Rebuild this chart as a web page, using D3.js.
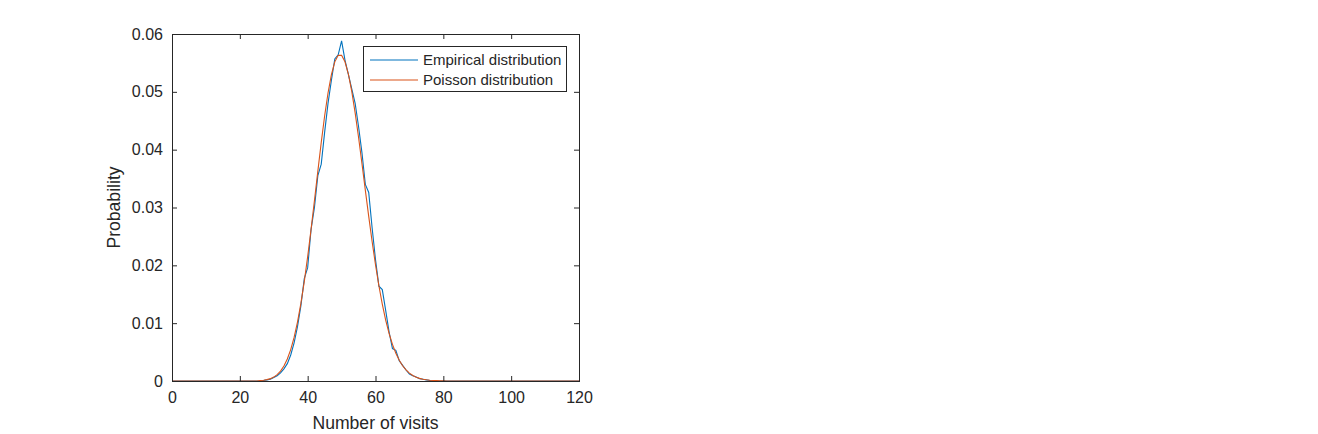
<!DOCTYPE html>
<html>
<head>
<meta charset="utf-8">
<script src="https://cdn.jsdelivr.net/npm/d3@7"></script>
<style>
html,body{margin:0;padding:0;background:#fff;}
svg{display:block;}
text{font-family:"Liberation Sans",Arial,sans-serif;fill:#262626;}
</style>
</head>
<body>
<svg id="chart" width="1318" height="434"></svg>
<script>
// ---- data ----
const visitsStart = 26; // first k listed below; values outside are zero
const empiricalValues = [
  0, 0.0001, 0.0002, 0.0003, 0.0006, 0.0009, 0.0014, 0.0021, 0.0030, 0.0045,
  0.0066, 0.0094, 0.0130, 0.0177, 0.0196, 0.0262, 0.0300, 0.0355, 0.0375, 0.0430,
  0.0480, 0.0520, 0.0557, 0.0564, 0.0588, 0.0555, 0.0530, 0.0505, 0.0480, 0.0440,
  0.0395, 0.0340, 0.0326, 0.0265, 0.0210, 0.0164, 0.0158, 0.0122, 0.0085, 0.0056,
  0.0053, 0.0035, 0.0027, 0.0019, 0.0012, 0.0009, 0.0007, 0.0004, 0.0003, 0.0002,
  0.0001, 0
];
const poissonValues = [
  0.000079, 0.000139, 0.000239, 0.000406, 0.000677, 0.001092, 0.001706, 0.002585, 0.003801, 0.005430,
  0.007542, 0.010192, 0.013411, 0.017194, 0.021493, 0.026211, 0.031204, 0.036284, 0.041232, 0.045813,
  0.049797, 0.052975, 0.055182, 0.056308, 0.056308, 0.055204, 0.053081, 0.050076, 0.046366, 0.042151,
  0.037635, 0.033013, 0.028460, 0.024119, 0.020099, 0.016475, 0.013286, 0.010544, 0.008238, 0.006337,
  0.004801, 0.003583, 0.002635, 0.001910, 0.001364, 0.000961, 0.000667, 0.000457, 0.000309, 0.000206,
  0.000135, 0.000088, 0.000057, 0.000036, 0.000023
];
const xTicks = [0, 20, 40, 60, 80, 100, 120];
const yTicks = [0, 0.01, 0.02, 0.03, 0.04, 0.05, 0.06];
const seriesNames = ["Empirical distribution", "Poisson distribution"];
const seriesColors = ["#0072BD", "#D95319"];
const xLabel = "Number of visits";
const yLabel = "Probability";
const xMax = 120;

function toSeries(vals) {
  const out = [];
  for (let k = 0; k <= xMax; k++) {
    const i = k - visitsStart;
    out.push({k: k, p: (i >= 0 && i < vals.length) ? vals[i] : 0});
  }
  return out;
}
const empirical = toSeries(empiricalValues);
const poisson = toSeries(poissonValues);

// ---- layout ----
const L = 172, R = 579, T = 34, B = 381;
const svg = d3.select("#chart");
const x = d3.scaleLinear().domain([0, xMax]).range([L, R]);
const y = d3.scaleLinear().domain([0, 0.06]).range([B, T]);
const axisColor = "#262626";

const line = d3.line().x(d => x(d.k)).y(d => y(d.p));

const plot = svg.append("g");
plot.append("path").datum(empirical).attr("d", line)
  .attr("fill", "none").attr("stroke", seriesColors[0]).attr("stroke-width", 1.1);
plot.append("path").datum(poisson).attr("d", line)
  .attr("fill", "none").attr("stroke", seriesColors[1]).attr("stroke-width", 1.1);

// axes
function styleAxis(g) {
  g.select(".domain").remove();
  g.selectAll(".tick line").attr("stroke", axisColor);
  g.selectAll(".tick text").attr("fill", axisColor)
    .style("font-family", '"Liberation Sans", Arial, sans-serif').style("font-size", "16px");
}
const fmtY = d => d === 0 ? "0" : d3.format(".2f")(d);

svg.append("g").attr("transform", `translate(0,${B})`)
  .call(d3.axisBottom(x).tickValues(xTicks).tickSize(-5).tickPadding(11).tickFormat(d3.format("d")))
  .call(styleAxis);
svg.append("g").attr("transform", `translate(0,${T})`)
  .call(d3.axisTop(x).tickValues(xTicks).tickSize(-5).tickFormat(""))
  .call(styleAxis);
svg.append("g").attr("transform", `translate(${L},0)`)
  .call(d3.axisLeft(y).tickValues(yTicks).tickSize(-5).tickPadding(9).tickFormat(fmtY))
  .call(styleAxis);
svg.append("g").attr("transform", `translate(${R},0)`)
  .call(d3.axisRight(y).tickValues(yTicks).tickSize(-5).tickFormat(""))
  .call(styleAxis);

// box
svg.append("rect").attr("x", L).attr("y", T).attr("width", R - L).attr("height", B - T)
  .attr("fill", "none").attr("stroke", axisColor).attr("stroke-width", 1).attr("shape-rendering", "crispEdges");

// axis labels
svg.append("text").attr("x", (L + R) / 2).attr("y", 429).attr("text-anchor", "middle")
  .style("font-size", "17.6px").text(xLabel);
svg.append("text").attr("transform", `translate(120,${(T + B) / 2}) rotate(-90)`)
  .attr("text-anchor", "middle").style("font-size", "17.6px").text(yLabel);

// legend
const lg = svg.append("g");
lg.append("rect").attr("x", 363.5).attr("y", 46.5).attr("width", 203).attr("height", 45)
  .attr("fill", "#fff").attr("stroke", axisColor).attr("stroke-width", 1);
seriesNames.forEach((name, i) => {
  const yy = 60 + i * 20;
  lg.append("line").attr("x1", 370).attr("x2", 418).attr("y1", yy).attr("y2", yy)
    .attr("stroke", seriesColors[i]).attr("stroke-width", 1.1);
  lg.append("text").attr("x", 423).attr("y", yy + 5).style("font-size", "15px").text(name);
});
</script>
</body>
</html>
